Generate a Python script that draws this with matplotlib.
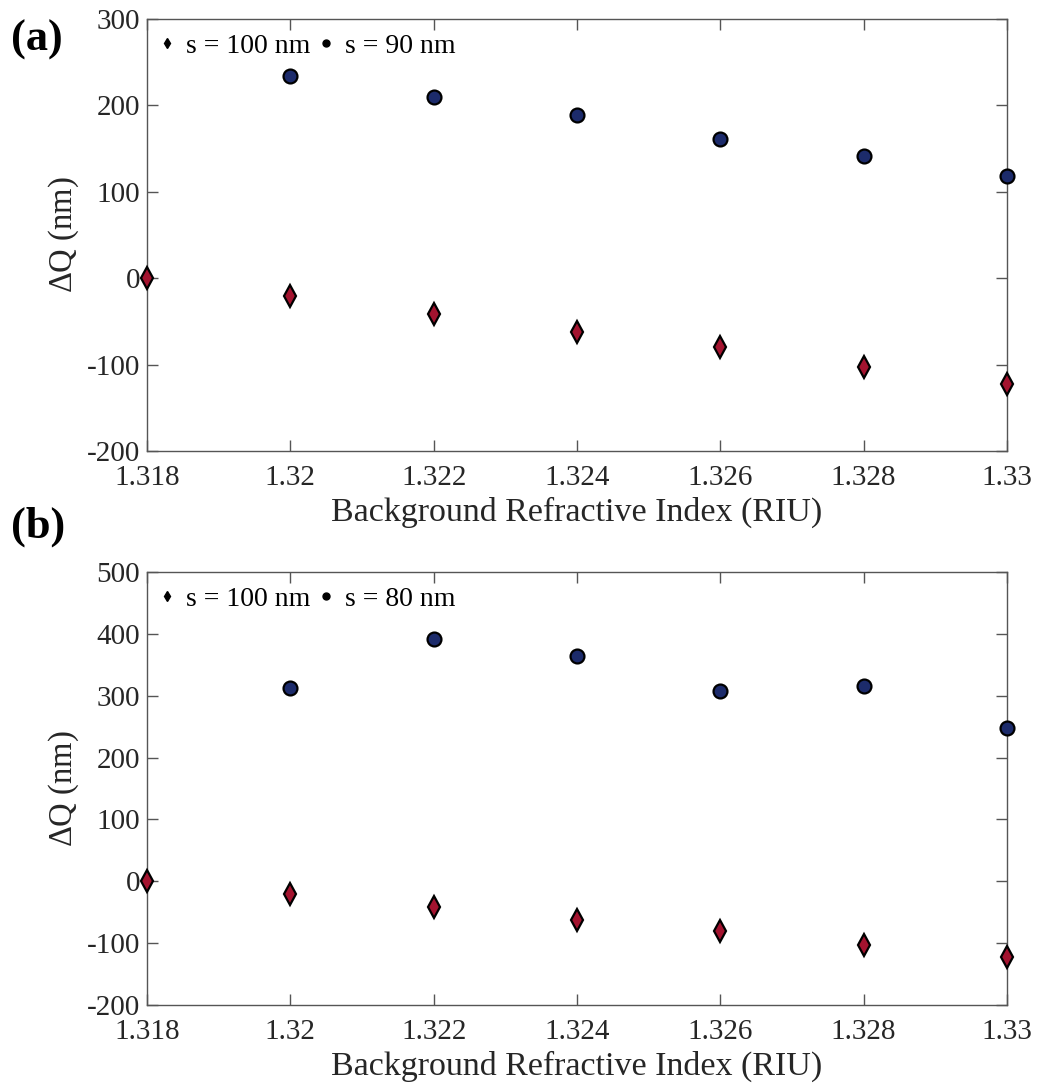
import matplotlib
matplotlib.use("Agg")
import matplotlib.pyplot as plt
from matplotlib.lines import Line2D

plt.rcParams['font.family'] = ['Liberation Serif', 'DejaVu Serif']
plt.rcParams['mathtext.fontset'] = 'custom'
plt.rcParams['mathtext.rm'] = 'Liberation Serif'

x_ri = [1.318, 1.320, 1.322, 1.324, 1.326, 1.328, 1.330]
dq_s100 = [0, -21, -41, -62, -80, -103, -122]
x_a = [1.320, 1.322, 1.324, 1.326, 1.328, 1.330]
dq_s90 = [234, 210, 189, 161, 142, 118]
x_b = [1.320, 1.322, 1.324, 1.326, 1.328, 1.330]
dq_s80 = [312, 391, 365, 307, 316, 247]
xticks = [1.318, 1.32, 1.322, 1.324, 1.326, 1.328, 1.33]
xticklabels = ['1.318', '1.32', '1.322', '1.324', '1.326', '1.328', '1.33']

RED = '#a3132f'
BLUE = '#1c2b6b'

fig = plt.figure(figsize=(10.41, 10.91), dpi=100)
W, H = 1041, 1091
ax1 = fig.add_axes([147 / W, 1 - 451 / H, (1007 - 147) / W, (451 - 19) / H])
ax2 = fig.add_axes([147 / W, 1 - 1005 / H, (1007 - 147) / W, (1005 - 572) / H])

def style(ax, ylim, yticks, other_label):
    ax.set_xlim(1.318, 1.33)
    ax.set_ylim(*ylim)
    ax.set_xticks(xticks)
    ax.set_xticklabels(xticklabels)
    ax.set_yticks(yticks)
    ax.set_yticklabels([str(v) for v in yticks])
    ax.tick_params(direction='in', length=8, width=1, colors='#555555', labelsize=21,
                   top=True, right=True, labelcolor='#262626')
    ax.tick_params(axis='x', pad=10)
    ax.tick_params(axis='y', pad=5)
    for s in ax.spines.values():
        s.set_color('#555555')
        s.set_linewidth(1.0)
    ax.set_xlabel('Background Refractive Index (RIU)', fontsize=24.5, labelpad=4, color='#262626')
    ax.set_ylabel(r'$\Delta$Q (nm)', fontsize=23.5, labelpad=4, color='#262626')
    handles = [Line2D([], [], ls='none', marker='d', ms=5, color='black'),
               Line2D([], [], ls='none', marker='o', ms=5, color='black')]
    ax.legend(handles, ['s = 100 nm', other_label], loc='upper left', ncol=2,
              frameon=False, fontsize=20, handlelength=0.5, handletextpad=0.45,
              columnspacing=0.3, borderaxespad=0.3, bbox_to_anchor=(-0.008, 1.012))

for ax, xs, ys, lab, ylim, yt in [
        (ax1, x_a, dq_s90, 's = 90 nm', (-200, 300), [-200, -100, 0, 100, 200, 300]),
        (ax2, x_b, dq_s80, 's = 80 nm', (-200, 500), [-200, -100, 0, 100, 200, 300, 400, 500])]:
    ax.plot(x_ri, dq_s100, ls='none', marker='d', ms=11, mfc=RED, mec='black',
            mew=1.6, clip_on=False, zorder=3)
    ax.plot(xs, ys, ls='none', marker='o', ms=10, mfc=BLUE, mec='black',
            mew=1.6, clip_on=False, zorder=3)
    style(ax, ylim, yt, lab)

fig.text(11 / W, 1 - 40 / H, '(a)', fontsize=32, fontweight='bold', va='center', ha='left')
fig.text(11 / W, 1 - 527 / H, '(b)', fontsize=32, fontweight='bold', va='center', ha='left')

fig.savefig('out.png', dpi=100)
